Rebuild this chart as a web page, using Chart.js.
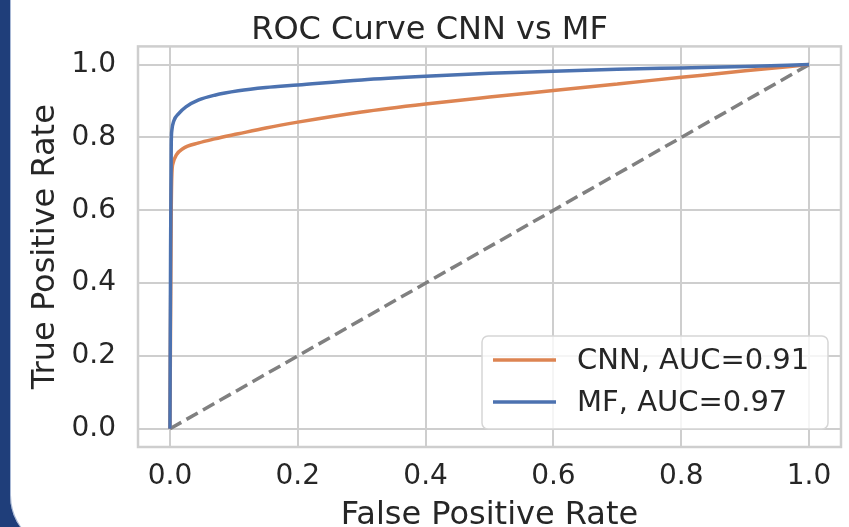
<!DOCTYPE html>
<html>
<head>
<meta charset="utf-8">
<title>ROC Curve CNN vs MF</title>
<script src="https://cdn.jsdelivr.net/npm/chart.js@4.4.1/dist/chart.umd.min.js"></script>
<style>
    html, body { margin: 0; padding: 0; background: #ffffff; }
    #wrap { position: relative; width: 849px; height: 527px; overflow: hidden; }
    #rocChart { position: absolute; left: 0; top: 0; }
    /* dark blue slide frame on the left edge */
    #frame {
        position: absolute;
        left: -10px;
        top: -100px;
        width: 1000px;
        height: 671px;
        border: 20px solid #1f3e7a;
        border-radius: 76px;
        box-sizing: border-box;
        box-shadow: inset 0 0 0 1px #a9b9d6;
        pointer-events: none;
    }
</style>
</head>
<body>
<div id="wrap">
    <canvas id="rocChart" width="849" height="527"></canvas>
    <div id="frame"></div>
</div>
<script>
// Chart data
const tickValues = [0.0, 0.2, 0.4, 0.6, 0.8, 1.0];

const cnnFpr = [0, 0.002, 0.003, 0.005, 0.01, 0.02, 0.045, 0.07, 0.107, 0.15, 0.2, 0.3, 0.4, 0.5, 0.6, 0.7, 0.8, 0.9, 1.0];
const cnnTpr = [0, 0.60, 0.70, 0.73, 0.752, 0.769, 0.785, 0.796, 0.81, 0.826, 0.842, 0.87, 0.892, 0.911, 0.929, 0.947, 0.965, 0.983, 1.0];

const mfFpr = [0, 0.001, 0.002, 0.003, 0.006, 0.014, 0.025, 0.045, 0.07, 0.107, 0.15, 0.2, 0.3, 0.4, 0.5, 0.6, 0.7, 0.8, 0.9, 1.0];
const mfTpr = [0, 0.50, 0.78, 0.82, 0.845, 0.866, 0.884, 0.903, 0.916, 0.928, 0.937, 0.944, 0.958, 0.968, 0.976, 0.982, 0.987, 0.991, 0.995, 1.0];

const chanceFpr = [0, 1];
const chanceTpr = [0, 1];

const cnnLabel = 'CNN, AUC=0.91';
const mfLabel = 'MF, AUC=0.97';

const COLORS = {
    cnn: '#dd8452',
    mf: '#4c72b0',
    chance: '#808080',
    grid: '#cecece',
    text: '#262626'
};
const FONT = '"DejaVu Sans", Verdana, sans-serif';

function toPoints(xs, ys) {
    return xs.map((x, i) => ({ x: x, y: ys[i] }));
}

// Frame around the plot area
const framePlugin = {
    id: 'frame',
    beforeDatasetsDraw(chart) {
        const { ctx, chartArea: a } = chart;
        ctx.save();
        ctx.strokeStyle = COLORS.grid;
        ctx.lineWidth = 2.5;
        ctx.strokeRect(a.left, a.top, a.right - a.left, a.bottom - a.top);
        ctx.restore();
    }
};

// Legend box in the lower right, matplotlib style
const boxLegendPlugin = {
    id: 'boxLegend',
    afterDraw(chart) {
        const { ctx, chartArea: a } = chart;
        const items = chart.data.datasets.filter(d => d.showInLegend);
        const w = 346, h = 93;
        const x0 = a.right - 13 - w;
        const y0 = a.bottom - 18 - h;
        ctx.save();
        ctx.beginPath();
        ctx.roundRect(x0, y0, w, h, 6);
        ctx.fillStyle = 'rgba(255,255,255,0.8)';
        ctx.fill();
        ctx.strokeStyle = '#d6d6d6';
        ctx.lineWidth = 1.5;
        ctx.stroke();
        ctx.font = '29px ' + FONT;
        ctx.textBaseline = 'middle';
        ctx.textAlign = 'left';
        items.forEach((d, i) => {
            const y = y0 + 24 + i * 42;
            ctx.beginPath();
            ctx.moveTo(x0 + 11, y);
            ctx.lineTo(x0 + 74, y);
            ctx.strokeStyle = d.borderColor;
            ctx.lineWidth = 3.5;
            ctx.stroke();
            ctx.fillStyle = COLORS.text;
            ctx.fillText(d.label, x0 + 95, y + 1);
        });
        ctx.restore();
    }
};

function axisOptions(titleText, isY) {
    return {
        type: 'linear',
        min: -0.05,
        max: 1.05,
        afterBuildTicks: (scale) => {
            scale.ticks = tickValues.map(v => ({ value: v }));
        },
        afterFit: (scale) => {
            if (isY) {
                scale.width = 120;
            } else {
                scale.height = 80;
            }
        },
        ticks: {
            color: COLORS.text,
            font: { family: FONT, size: 28 },
            padding: isY ? 22 : 13,
            maxRotation: 0,
            autoSkip: false,
            callback: (v) => Number(v).toFixed(1)
        },
        grid: {
            color: COLORS.grid,
            lineWidth: 2,
            drawTicks: false
        },
        border: { display: false },
        title: {
            display: true,
            text: titleText,
            color: COLORS.text,
            font: { family: FONT, size: 32 },
            padding: isY ? { top: 8, bottom: 0 } : { top: 0, bottom: -8 }
        }
    };
}

function setupRocChart() {
    const ctx = document.getElementById('rocChart').getContext('2d');
    return new Chart(ctx, {
        type: 'line',
        data: {
            datasets: [
                {
                    label: cnnLabel,
                    data: toPoints(cnnFpr, cnnTpr),
                    borderColor: COLORS.cnn,
                    borderWidth: 3.5,
                    pointRadius: 0,
                    cubicInterpolationMode: 'monotone',
                    fill: false,
                    order: 2,
                    showInLegend: true
                },
                {
                    label: mfLabel,
                    data: toPoints(mfFpr, mfTpr),
                    borderColor: COLORS.mf,
                    borderWidth: 3.5,
                    pointRadius: 0,
                    cubicInterpolationMode: 'monotone',
                    fill: false,
                    order: 1,
                    showInLegend: true
                },
                {
                    label: 'chance',
                    data: toPoints(chanceFpr, chanceTpr),
                    borderColor: COLORS.chance,
                    borderWidth: 3.5,
                    borderDash: [13, 6],
                    pointRadius: 0,
                    fill: false,
                    order: 3,
                    showInLegend: false
                }
            ]
        },
        options: {
            responsive: false,
            animation: false,
            layout: {
                padding: { left: 18, right: 8, top: 0, bottom: 0 }
            },
            plugins: {
                legend: { display: false },
                tooltip: { enabled: false },
                title: {
                    display: true,
                    text: 'ROC Curve CNN vs MF',
                    color: COLORS.text,
                    font: { family: FONT, size: 32, weight: 'normal' },
                    padding: { top: 11, bottom: -3 }
                }
            },
            scales: {
                x: axisOptions('False Positive Rate', false),
                y: axisOptions('True Positive Rate', true)
            }
        },
        plugins: [framePlugin, boxLegendPlugin]
    });
}

document.addEventListener('DOMContentLoaded', () => {
    setupRocChart();
});
</script>
</body>
</html>
